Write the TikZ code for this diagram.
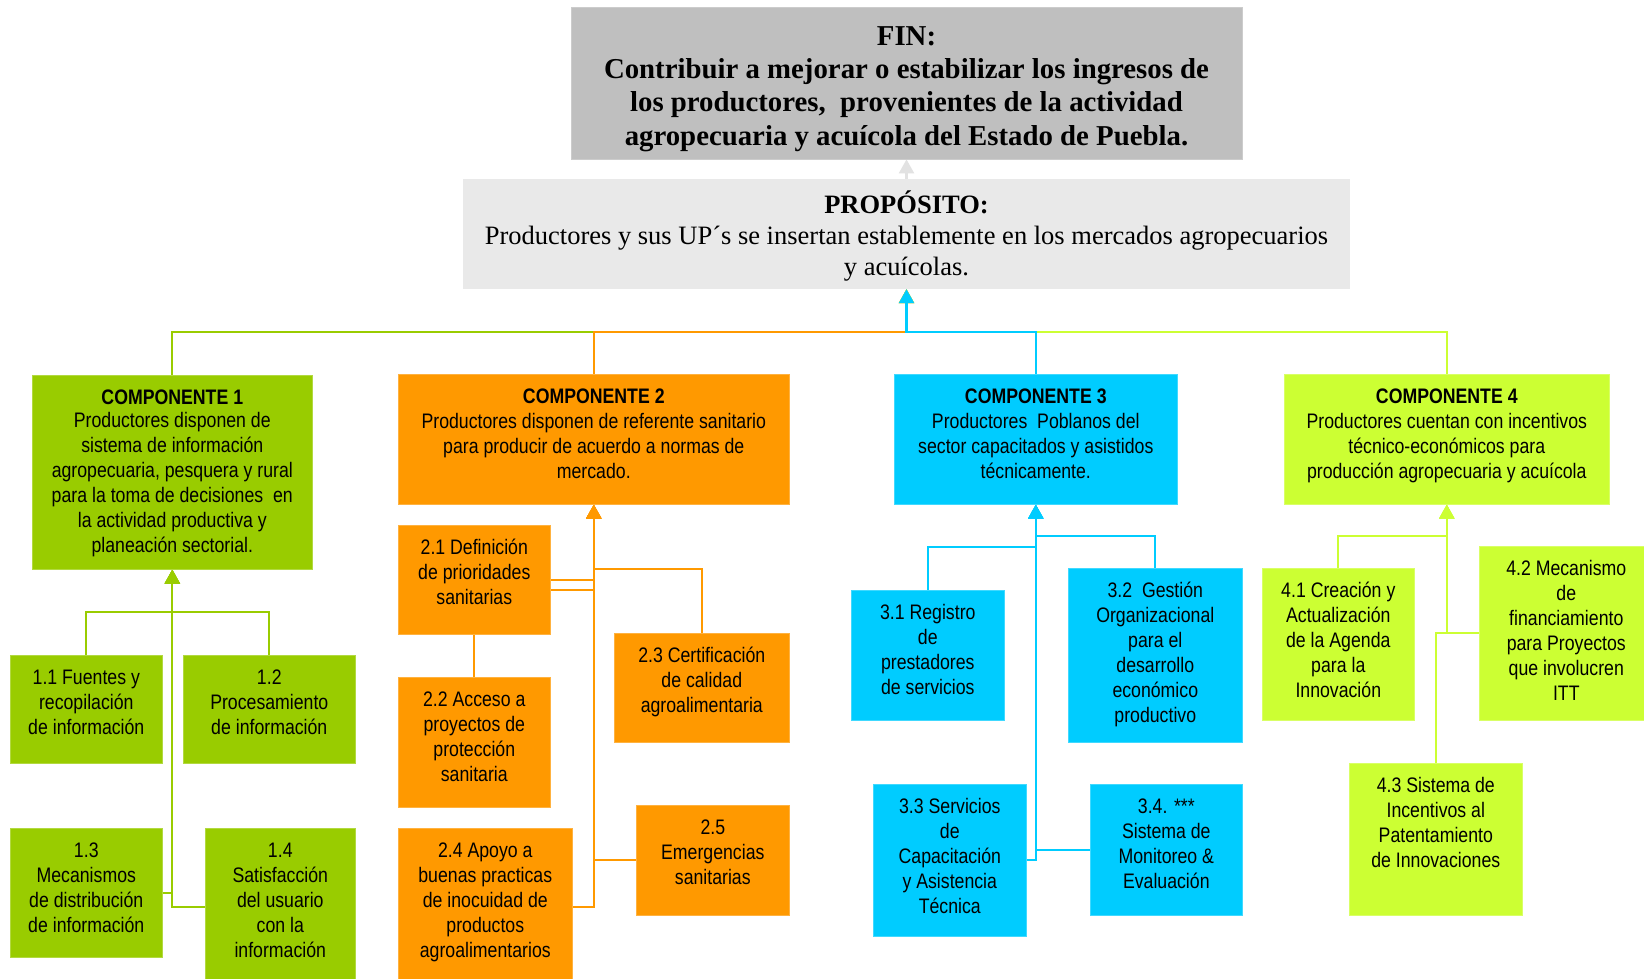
\documentclass[tikz,border=0pt]{standalone}
\usepackage{fontspec}
\setmainfont{Liberation Serif}
\newfontfamily\narrowsans{Liberation Sans}[FakeStretch=0.843]
\usetikzlibrary{arrows.meta,calc}
\pgfdeclarelayer{canvas}
\pgfdeclarelayer{background}
\pgfsetlayers{canvas,background,main}

\definecolor{cgreen}{HTML}{99CC00}
\definecolor{corange}{HTML}{FF9900}
\definecolor{ccyan}{HTML}{00CCFF}
\definecolor{clime}{HTML}{CCFF33}
\definecolor{fingray}{HTML}{BFBFBF}
\definecolor{propgray}{HTML}{E9E9E9}
\definecolor{tipgray}{HTML}{E2E2E2}

\tikzset{
  subbox/.style={inner sep=0pt, draw=#1!75!white, line width=0.6pt, fill=#1,
                 font=\narrowsans\fontsize{21}{24.9}\selectfont},
  link/.style={line width=2.2pt},
  tip/.style={-{Triangle[width=15pt,length=14pt]}},
}

% box with top-aligned centred text: name, x1, y1, x2, y2, colour, text
\newcommand\blk[7]{%
  \node[subbox=#6, anchor=north west] (#1) at (#2,#3)
    {\begin{minipage}[t][\dimexpr#5pt-#3pt\relax][t]{\dimexpr#4pt-#2pt\relax}%
      \centering\rule{0pt}{29.5pt}#7\end{minipage}};}

\begin{document}
\begin{tikzpicture}[x=1pt,y=-1pt]
\begin{pgfonlayer}{canvas}
  \fill[white] (0,0) rectangle (1644,979);
\end{pgfonlayer}
\useasboundingbox (0,0) rectangle (1644,979);

% top levels
\node[fill=fingray, draw=fingray!80!white, line width=0.8pt,
      minimum width=671pt, minimum height=152pt, align=center, inner sep=0pt,
      font=\fontsize{28.8}{33.2}\selectfont\bfseries] (fin) at (906.5,83)
  {\rule{0pt}{31pt}FIN:\\Contribuir a mejorar o estabilizar los ingresos de\\
   los productores,~~provenientes de la actividad\\
   agropecuaria y acuícola del Estado de Puebla.};

\node[fill=propgray, minimum width=887pt, minimum height=110pt, align=center,
      inner sep=0pt, font=\fontsize{26.5}{31}\selectfont] (prop) at (906.5,234)
  {\rule{0pt}{27.5pt}\textbf{PROPÓSITO:}\\
   Productores y sus UP´s se insertan establemente en los mercados agropecuarios\\
   y acuícolas.};

% components
\blk{c1}{32}{375}{312}{569}{cgreen}{\vspace*{-2pt}\textbf{COMPONENTE 1}\\Productores disponen de\\sistema de información\\agropecuaria, pesquera y rural\\para la toma de decisiones~~en\\la actividad productiva y\\planeación sectorial.}
\blk{c2}{398}{374}{789}{504}{corange}{\textbf{COMPONENTE 2}\\Productores disponen de referente sanitario\\para producir de acuerdo a normas de\\mercado.}
\blk{c3}{894}{374}{1177}{504}{ccyan}{\textbf{COMPONENTE 3}\\Productores~~Poblanos del\\sector capacitados y asistidos\\técnicamente.}
\blk{c4}{1284}{374}{1609}{504}{clime}{\textbf{COMPONENTE 4}\\Productores cuentan con incentivos\\técnico-económicos para\\producción agropecuaria y acuícola}

% activities of component 1
\blk{s11}{10}{655}{162}{763}{cgreen}{1.1 Fuentes y\\recopilación\\de información}
\blk{s12}{183}{655}{355}{763}{cgreen}{1.2\\Procesamiento\\de información}
\blk{s13}{10}{828}{162}{957}{cgreen}{1.3\\Mecanismos\\de distribución\\de información}
\blk{s14}{205}{828}{355}{985}{cgreen}{1.4\\Satisfacción\\del usuario\\con la\\información}

% activities of component 2
\blk{s21}{398}{525}{550}{634}{corange}{2.1 Definición\\de prioridades\\sanitarias}
\blk{s22}{398}{677}{550}{807}{corange}{2.2 Acceso a\\proyectos de\\protección\\sanitaria}
\blk{s23}{614}{633}{789}{742}{corange}{2.3 Certificación\\de calidad\\agroalimentaria}
\blk{s24}{398}{828}{572}{985}{corange}{2.4 Apoyo a\\buenas practicas\\de inocuidad de\\productos\\agroalimentarios}
\blk{s25}{636}{805}{789}{915}{corange}{2.5\\Emergencias\\sanitarias}

% activities of component 3
\blk{s31}{851}{590}{1004}{720}{ccyan}{3.1 Registro\\de\\prestadores\\de servicios}
\blk{s32}{1068}{568}{1242}{742}{ccyan}{3.2~~Gestión\\Organizacional\\para el\\desarrollo\\económico\\productivo}
\blk{s33}{873}{784}{1026}{936}{ccyan}{3.3 Servicios\\de\\Capacitación\\y Asistencia\\Técnica}
\blk{s34}{1090}{784}{1242}{915}{ccyan}{3.4. ***\\Sistema de\\Monitoreo \&\\Evaluación}

% activities of component 4
\blk{s41}{1262}{568}{1414}{720}{clime}{4.1 Creación y\\Actualización\\de la Agenda\\para la\\Innovación}
\blk{s42}{1479}{546}{1653}{720}{clime}{4.2 Mecanismo\\de\\financiamiento\\para Proyectos\\que involucren\\ITT}
\blk{s43}{1349}{763}{1522}{915}{clime}{4.3 Sistema de\\Incentivos al\\Patentamiento\\de Innovaciones}

\begin{pgfonlayer}{background}
  % propósito -> fin
  \draw[link, tipgray, tip] (prop.north) -- (fin.south);

  % components -> propósito
  \draw[link, cgreen, tip] (c1.north) |- ($(prop.south)!.5!(c1.north)$) -| (prop.south);
  \draw[link, corange, tip] (c2.north) |- ($(prop.south)!.5!(c2.north)$) -| (prop.south);
  \draw[link, clime, tip] (c4.north) |- ($(prop.south)!.5!(c4.north)$) -| (prop.south);
  \draw[link, ccyan, tip] (c3.north) |- ($(prop.south)!.5!(c3.north)$) -| (prop.south);

  % component 1
  \draw[link, cgreen, tip] (s11.north) |- ($(c1.south)!.5!(s11.north)$) -| (c1.south);
  \draw[link, cgreen, tip] (s12.north) |- ($(c1.south)!.5!(s12.north)$) -| (c1.south);
  \draw[link, cgreen, tip] (s13.east) -| (c1.south);
  \draw[link, cgreen, tip] (s14.west) -| (c1.south);

  % component 2
  \draw[link, corange, tip] (s21.east) -| (c2.south);
  \draw[link, corange, tip] (s22.north) |- ([yshift=-10pt]s21.east) -| (c2.south);
  \draw[link, corange, tip] (s23.north) |- ($(c2.south)!.5!(s23.north)$) -| (c2.south);
  \draw[link, corange, tip] (s24.east) -| (c2.south);
  \draw[link, corange, tip] (s25.west) -| (c2.south);

  % component 3
  \draw[link, ccyan, tip] (s31.north) |- ($(c3.south)!.5!(s31.north)$) -| (c3.south);
  \draw[link, ccyan, tip] (s32.north) |- ($(c3.south)!.5!(s32.north)$) -| (c3.south);
  \draw[link, ccyan, tip] (s33.east) -| (c3.south);
  \draw[link, ccyan, tip] (s34.west) -| (c3.south);

  % component 4
  \draw[link, clime, tip] (s41.north) |- ($(c4.south)!.5!(s41.north)$) -| (c4.south);
  \draw[link, clime, tip] (s42.west) -| (c4.south);
  \draw[link, clime, tip] (s43.north) |- (s42.west) -| (c4.south);
\end{pgfonlayer}
\end{tikzpicture}
\end{document}
